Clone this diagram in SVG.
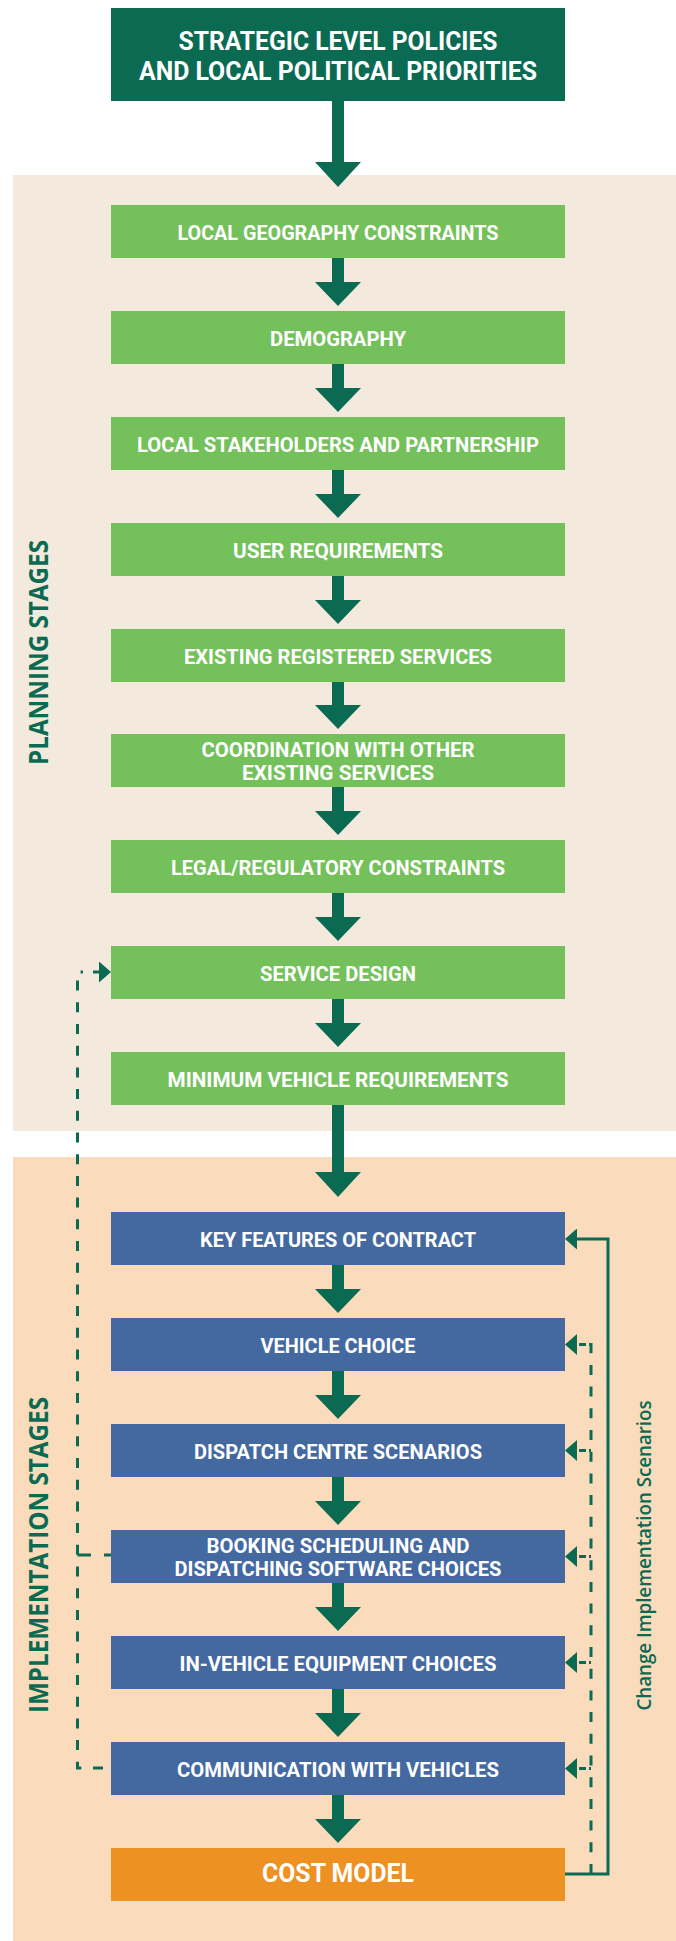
<svg xmlns="http://www.w3.org/2000/svg" width="676" height="1941" viewBox="0 0 676 1941">
<defs>
<style>
.bgp{fill:#f3e9dc}
.bgi{fill:#fadcbc}
.top{fill:#0b6a52}
.g{fill:#74c15b}
.b{fill:#4469a1}
.o{fill:#ec9122}
.t{font-family:Roboto,"Liberation Sans",sans-serif;font-weight:700;fill:#ffffff;text-anchor:middle;font-size:21px}
.t2{font-size:20px}
.tt{font-size:25px}
.tc{font-size:26px}
.side{font-family:"Open Sans","Liberation Sans",sans-serif;font-weight:700;fill:#0b6a52;text-anchor:middle;font-size:26px}
.side2{font-family:"Open Sans","Liberation Sans",sans-serif;font-weight:600;fill:#0b6a52;text-anchor:middle;font-size:19.5px}
.flow{fill:#0b6a52}
.dash{fill:none;stroke:#0b6a52;stroke-width:3;stroke-dasharray:10 11.7}
.solid{fill:none;stroke:#0b6a52;stroke-width:3}
</style>
<marker id="ah" markerUnits="userSpaceOnUse" viewBox="0 0 12 21" refX="0" refY="10.5" markerWidth="12" markerHeight="21" orient="auto">
<path d="M0,0 L12,10.5 L0,21 Z" fill="#0b6a52"/>
</marker>
</defs>

<g id="backgrounds">
<rect class="bgp" x="13" y="175" width="663" height="956"/>
<rect class="bgi" x="13" y="1157" width="663" height="784"/>
</g>

<g id="labels">
<text class="side" transform="translate(48,652.5) rotate(-90)" textLength="225" lengthAdjust="spacingAndGlyphs">PLANNING  STAGES</text>
<text class="side" transform="translate(48,1555) rotate(-90)" textLength="316" lengthAdjust="spacingAndGlyphs">IMPLEMENTATION  STAGES</text>
<text class="side2" transform="translate(651,1555.5) rotate(-90)" textLength="310" lengthAdjust="spacingAndGlyphs">Change Implementation Scenarios</text>
</g>

<g id="connectors">
<path class="flow" d="M332,101 H344 V162 H361 L338,187 L315,162 H332 Z"/>
<path class="flow" d="M332,258 H344 V282 H361 L338,306 L315,282 H332 Z"/>
<path class="flow" d="M332,364 H344 V388 H361 L338,412 L315,388 H332 Z"/>
<path class="flow" d="M332,470 H344 V494 H361 L338,518 L315,494 H332 Z"/>
<path class="flow" d="M332,576 H344 V600 H361 L338,624 L315,600 H332 Z"/>
<path class="flow" d="M332,682 H344 V705 H361 L338,729 L315,705 H332 Z"/>
<path class="flow" d="M332,787 H344 V811 H361 L338,835 L315,811 H332 Z"/>
<path class="flow" d="M332,893 H344 V917 H361 L338,941 L315,917 H332 Z"/>
<path class="flow" d="M332,999 H344 V1023 H361 L338,1047 L315,1023 H332 Z"/>
<path class="flow" d="M332,1105 H344 V1172 H361 L338,1197 L315,1172 H332 Z"/>
<path class="flow" d="M332,1265 H344 V1289 H361 L338,1313 L315,1289 H332 Z"/>
<path class="flow" d="M332,1371 H344 V1395 H361 L338,1419 L315,1395 H332 Z"/>
<path class="flow" d="M332,1477 H344 V1501 H361 L338,1525 L315,1501 H332 Z"/>
<path class="flow" d="M332,1583 H344 V1607 H361 L338,1631 L315,1607 H332 Z"/>
<path class="flow" d="M332,1689 H344 V1713 H361 L338,1737 L315,1713 H332 Z"/>
<path class="flow" d="M332,1795 H344 V1819 H361 L338,1843 L315,1819 H332 Z"/>

<path class="dash" d="M103,1768 H77.5 V972 H83"/>
<path class="solid" d="M93,972 H99" marker-end="url(#ah)"/>
<path class="dash" style="stroke-dasharray:7 13 14" d="M111,1555 H77.5"/>

<path class="solid" d="M565,1874 H608 V1239 H577" marker-end="url(#ah)"/>
<path class="dash" d="M591,1874 V1344.5 H588"/>
<path class="dash" style="stroke-dasharray:2 3 7 20" d="M591,1344.5 H577" marker-end="url(#ah)"/>
<path class="dash" style="stroke-dasharray:2 3 7 20" d="M591,1450.5 H577" marker-end="url(#ah)"/>
<path class="dash" style="stroke-dasharray:2 3 7 20" d="M591,1556.5 H577" marker-end="url(#ah)"/>
<path class="dash" style="stroke-dasharray:2 3 7 20" d="M591,1662.5 H577" marker-end="url(#ah)"/>
<path class="dash" style="stroke-dasharray:2 3 7 20" d="M591,1768.5 H577" marker-end="url(#ah)"/>
</g>

<g id="node-strategic">
<rect class="top" x="111" y="8" width="454" height="93"/>
<text class="t tt" x="338" y="50" textLength="319" lengthAdjust="spacingAndGlyphs">STRATEGIC LEVEL POLICIES</text>
<text class="t tt" x="338" y="80" textLength="398" lengthAdjust="spacingAndGlyphs">AND LOCAL POLITICAL PRIORITIES</text>
</g>
<g id="node-geography">
<rect class="g" x="111" y="205" width="454" height="53"/>
<text class="t" x="338" y="240" textLength="321" lengthAdjust="spacingAndGlyphs">LOCAL GEOGRAPHY CONSTRAINTS</text>
</g>
<g id="node-demography">
<rect class="g" x="111" y="311" width="454" height="53"/>
<text class="t" x="338" y="346" textLength="136" lengthAdjust="spacingAndGlyphs">DEMOGRAPHY</text>
</g>
<g id="node-stakeholders">
<rect class="g" x="111" y="417" width="454" height="53"/>
<text class="t" x="338" y="452" textLength="402" lengthAdjust="spacingAndGlyphs">LOCAL STAKEHOLDERS AND PARTNERSHIP</text>
</g>
<g id="node-user">
<rect class="g" x="111" y="523" width="454" height="53"/>
<text class="t" x="338" y="558" textLength="210" lengthAdjust="spacingAndGlyphs">USER REQUIREMENTS</text>
</g>
<g id="node-existing">
<rect class="g" x="111" y="629" width="454" height="53"/>
<text class="t" x="338" y="664" textLength="308" lengthAdjust="spacingAndGlyphs">EXISTING REGISTERED SERVICES</text>
</g>
<g id="node-coordination">
<rect class="g" x="111" y="734" width="454" height="53"/>
<text class="t t2" x="338" y="757" textLength="273" lengthAdjust="spacingAndGlyphs">COORDINATION WITH OTHER</text>
<text class="t t2" x="338" y="780" textLength="192" lengthAdjust="spacingAndGlyphs">EXISTING SERVICES</text>
</g>
<g id="node-legal">
<rect class="g" x="111" y="840" width="454" height="53"/>
<text class="t" x="338" y="875" textLength="334" lengthAdjust="spacingAndGlyphs">LEGAL/REGULATORY CONSTRAINTS</text>
</g>
<g id="node-service-design">
<rect class="g" x="111" y="946" width="454" height="53"/>
<text class="t" x="338" y="981" textLength="156" lengthAdjust="spacingAndGlyphs">SERVICE DESIGN</text>
</g>
<g id="node-min-vehicle">
<rect class="g" x="111" y="1052" width="454" height="53"/>
<text class="t" x="338" y="1087" textLength="341" lengthAdjust="spacingAndGlyphs">MINIMUM VEHICLE REQUIREMENTS</text>
</g>
<g id="node-contract">
<rect class="b" x="111" y="1212" width="454" height="53"/>
<text class="t" x="338" y="1247" textLength="276" lengthAdjust="spacingAndGlyphs">KEY FEATURES OF CONTRACT</text>
</g>
<g id="node-vehicle-choice">
<rect class="b" x="111" y="1318" width="454" height="53"/>
<text class="t" x="338" y="1353" textLength="155" lengthAdjust="spacingAndGlyphs">VEHICLE CHOICE</text>
</g>
<g id="node-dispatch">
<rect class="b" x="111" y="1424" width="454" height="53"/>
<text class="t" x="338" y="1459" textLength="288" lengthAdjust="spacingAndGlyphs">DISPATCH CENTRE SCENARIOS</text>
</g>
<g id="node-booking">
<rect class="b" x="111" y="1530" width="454" height="53"/>
<text class="t t2" x="338" y="1553" textLength="263" lengthAdjust="spacingAndGlyphs">BOOKING SCHEDULING AND</text>
<text class="t t2" x="338" y="1576" textLength="327" lengthAdjust="spacingAndGlyphs">DISPATCHING SOFTWARE CHOICES</text>
</g>
<g id="node-equipment">
<rect class="b" x="111" y="1636" width="454" height="53"/>
<text class="t" x="338" y="1671" textLength="317" lengthAdjust="spacingAndGlyphs">IN-VEHICLE EQUIPMENT CHOICES</text>
</g>
<g id="node-communication">
<rect class="b" x="111" y="1742" width="454" height="53"/>
<text class="t" x="338" y="1777" textLength="322" lengthAdjust="spacingAndGlyphs">COMMUNICATION WITH VEHICLES</text>
</g>
<g id="node-cost">
<rect class="o" x="111" y="1848" width="454" height="53"/>
<text class="t tc" x="338" y="1882" textLength="152" lengthAdjust="spacingAndGlyphs">COST MODEL</text>
</g>
</svg>
